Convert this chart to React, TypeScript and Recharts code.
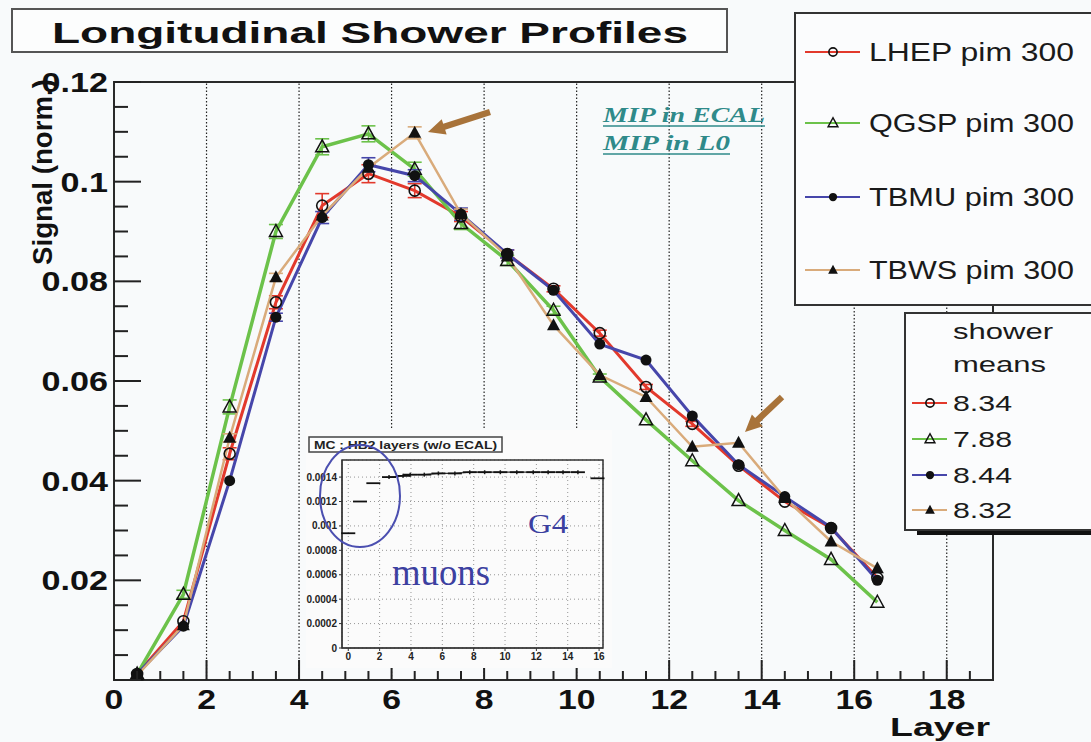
import React from "react";
import {
  LineChart,
  Line,
  XAxis,
  YAxis,
  ReferenceLine,
  ReferenceArea,
  ErrorBar,
  CartesianGrid,
} from "recharts";

// layer centres
const LAYERS = [0.5, 1.5, 2.5, 3.5, 4.5, 5.5, 6.5, 7.5, 8.5, 9.5, 10.5, 11.5, 12.5, 13.5, 14.5, 15.5, 16.5];

const LHEP = [0.0012, 0.0118, 0.0454, 0.0758, 0.0952, 0.1016, 0.0982, 0.093, 0.0855, 0.0785, 0.0696, 0.0588, 0.0514, 0.043, 0.0358, 0.0305, 0.0205];
const QGSP = [0.0012, 0.0172, 0.0548, 0.09, 0.107, 0.1096, 0.1025, 0.0916, 0.0842, 0.0742, 0.0608, 0.0522, 0.044, 0.036, 0.03, 0.0242, 0.0156];
const TBMU = [0.0012, 0.0108, 0.04, 0.0728, 0.0928, 0.1034, 0.1012, 0.0935, 0.0855, 0.0782, 0.0674, 0.0642, 0.053, 0.0432, 0.0368, 0.0306, 0.02];
const TBWS = [0.0009, 0.011, 0.0486, 0.0808, 0.0932, 0.1028, 0.1098, 0.0935, 0.085, 0.0712, 0.0612, 0.0568, 0.0468, 0.0476, 0.0365, 0.0278, 0.0224];

const LHEP_ERR = [0, 0, 0.0012, 0.0013, 0.0024, 0.0018, 0.0014, 0.001, 0.0008, 0.0006, 0.0006, 0.0005, 0.0005, 0, 0, 0, 0];
const QGSP_ERR = [0, 0.0008, 0.0014, 0.0014, 0.0016, 0.0016, 0.0014, 0.0012, 0.001, 0.0008, 0.0006, 0, 0, 0, 0, 0, 0];
const TBMU_ERR = [0, 0, 0, 0.0008, 0.0012, 0.0014, 0.0012, 0.0012, 0.0008, 0, 0, 0, 0, 0, 0, 0, 0];
const TBWS_ERR = [0, 0, 0.0008, 0.0008, 0, 0, 0.0012, 0.001, 0, 0, 0, 0, 0, 0, 0, 0, 0];

const NAMES = ["LHEP pim 300", "QGSP pim 300", "TBMU pim 300", "TBWS pim 300"];
const MEANS = ["8.34", "7.88", "8.44", "8.32"];

const X_TICKS = [0, 0.5, 1, 1.5, 2, 2.5, 3, 3.5, 4, 4.5, 5, 5.5, 6, 6.5, 7, 7.5, 8, 8.5, 9, 9.5, 10, 10.5, 11, 11.5, 12, 12.5, 13, 13.5, 14, 14.5, 15, 15.5, 16, 16.5, 17, 17.5, 18, 18.5];
const Y_TICKS = [0, 0.005, 0.01, 0.015, 0.02, 0.025, 0.03, 0.035, 0.04, 0.045, 0.05, 0.055, 0.06, 0.065, 0.07, 0.075, 0.08, 0.085, 0.09, 0.095, 0.1, 0.105, 0.11, 0.115, 0.12];
const GRID_X = [2, 4, 6, 8, 10, 12, 14, 16, 18];

// inset: MC muons, HB2 layers
const INSET_X = [0.0, 0.75, 1.6, 2.6, 3.5, 3.95, 4.85, 5.75, 6.8, 7.75, 8.7, 9.7, 10.75, 11.8, 12.75, 13.7, 14.65, 15.9];
const INSET_V = [0.00094, 0.0012, 0.00135, 0.0014, 0.00141, 0.00142, 0.00142, 0.00143, 0.00143, 0.00144, 0.00144, 0.00144, 0.00144, 0.00144, 0.00144, 0.00144, 0.00144, 0.00139];
const INSET_X_TICKS = [0, 2, 4, 6, 8, 10, 12, 14, 16];
const INSET_Y_TICKS = [0, 0.0002, 0.0004, 0.0006, 0.0008, 0.001, 0.0012, 0.0014];

const FONT = "'Liberation Sans', Arial, sans-serif";
const SERIF = "'Liberation Serif', 'Times New Roman', serif";

const SERIES = [
  { key: "lhep", values: LHEP, err: LHEP_ERR, color: "#e2392c", marker: "openCircle", width: 3 },
  { key: "qgsp", values: QGSP, err: QGSP_ERR, color: "#6cc24a", marker: "openTriangle", width: 3.5 },
  { key: "tbmu", values: TBMU, err: TBMU_ERR, color: "#4646aa", marker: "filledCircle", width: 3 },
  { key: "tbws", values: TBWS, err: TBWS_ERR, color: "#d9ab7b", marker: "filledTriangle", width: 2.5 },
];

const data = LAYERS.map((layer, i) => {
  const row: Record<string, number> = { layer };
  SERIES.forEach((s) => {
    row[s.key] = s.values[i];
    row[s.key + "Err"] = s.err[i];
  });
  return row;
});

const insetData = INSET_X.map((x, i) => ({
  x,
  v: INSET_V[i],
  conn: i >= 3 && i <= 16 ? INSET_V[i] : null,
}));

function Marker({ kind, cx, cy, s = 1 }: { kind: string; cx: number; cy: number; s?: number }) {
  if (kind === "openCircle")
    return <circle cx={cx} cy={cy} r={5.5 * s} fill="none" stroke="#111" strokeWidth={1.6} />;
  if (kind === "filledCircle") return <circle cx={cx} cy={cy} r={5.5 * s} fill="#111" />;
  const pts = `${cx},${cy - 7 * s} ${cx - 6.5 * s},${cy + 5 * s} ${cx + 6.5 * s},${cy + 5 * s}`;
  if (kind === "openTriangle") return <polygon points={pts} fill="none" stroke="#111" strokeWidth={1.5} />;
  return <polygon points={pts} fill="#111" />;
}

const XTick = (props: any) => {
  const { x, y, payload } = props;
  const v = payload.value;
  const major = v % 2 === 0;
  return (
    <g>
      <line x1={x} x2={x} y1={y} y2={y - (major ? 20 : 9)} stroke="#222" strokeWidth={2} />
      {major && (
        <text
          transform={`translate(${x},${y + 29}) scale(1.25,1)`}
          textAnchor="middle"
          fontSize={27}
          fontWeight="bold"
          fontFamily={FONT}
          fill="#111"
        >
          {v}
        </text>
      )}
    </g>
  );
};

const YTick = (props: any) => {
  const { x, y, payload } = props;
  const v = payload.value;
  const major = Math.abs(v / 0.02 - Math.round(v / 0.02)) < 1e-6;
  return (
    <g>
      <line x1={x} x2={x + (major ? 27 : 14)} y1={y} y2={y} stroke="#222" strokeWidth={2} />
      {major && v > 0 && (
        <text
          transform={`translate(${x - 6},${y + 10}) scale(1.22,1)`}
          textAnchor="end"
          fontSize={28}
          fontWeight="bold"
          fontFamily={FONT}
          fill="#111"
        >
          {String(+v.toFixed(3))}
        </text>
      )}
    </g>
  );
};

function Arrow({ x1, y1, x2, y2 }: { x1: number; y1: number; x2: number; y2: number }) {
  const dx = x2 - x1;
  const dy = y2 - y1;
  const L = Math.hypot(dx, dy);
  const ux = dx / L;
  const uy = dy / L;
  const px = -uy;
  const py = ux;
  const head = 17;
  const hw = 8;
  const sw = 3.2;
  const bx = x2 - ux * head;
  const by = y2 - uy * head;
  const p = [
    [x1 + px * sw, y1 + py * sw],
    [bx + px * sw, by + py * sw],
    [bx + px * hw, by + py * hw],
    [x2, y2],
    [bx - px * hw, by - py * hw],
    [bx - px * sw, by - py * sw],
    [x1 - px * sw, y1 - py * sw],
  ];
  return <polygon points={p.map((q) => q.join(",")).join(" ")} fill="#a8733a" />;
}

const Inset = () => (
  <div
    style={{
      position: "absolute",
      left: 306,
      top: 430,
      width: 306,
      height: 238,
      overflow: "hidden",
      background: "#fbfbfb",
    }}
  >
    <LineChart width={306} height={238} data={insetData} margin={{ top: 30, right: 9, left: 0, bottom: 0 }}>
      <CartesianGrid stroke="#8a8a8a" strokeDasharray="1 3" strokeWidth={0.9} />
      <XAxis
        type="number"
        dataKey="x"
        domain={[-0.4, 16.25]}
        ticks={INSET_X_TICKS}
        interval={0}
        height={20}
        tickSize={3}
        tickMargin={2}
        stroke="#333"
        tick={{ fontSize: 10, fontWeight: "bold", fill: "#222", fontFamily: FONT }}
      />
      <YAxis
        type="number"
        domain={[0, 0.00154]}
        ticks={INSET_Y_TICKS}
        interval={0}
        width={36}
        tickSize={3}
        tickMargin={2}
        stroke="#333"
        tickFormatter={(v: number) => String(+v.toFixed(4))}
        tick={{ fontSize: 10, fontWeight: "bold", fill: "#222", fontFamily: FONT }}
      />
      <ReferenceArea x1={-0.4} x2={16.25} y1={0} y2={0.00154} fill="none" stroke="#333" strokeWidth={1.5} />
      <Line
        dataKey="conn"
        stroke="#333"
        strokeWidth={1.3}
        isAnimationActive={false}
        connectNulls={false}
        dot={(p: any) => (
          <line key={`c${p.index}`} x1={p.cx} x2={p.cx} y1={p.cy - 2} y2={p.cy + 2} stroke="#222" strokeWidth={1.5} />
        )}
      />
      <Line
        dataKey="v"
        stroke="none"
        isAnimationActive={false}
        dot={(p: any) => (
          <line key={`d${p.index}`} x1={p.cx - 7} x2={p.cx + 7} y1={p.cy} y2={p.cy} stroke="#111" strokeWidth={1.8} />
        )}
      />
    </LineChart>
    <svg width={306} height={238} style={{ position: "absolute", left: 0, top: 0 }}>
      <rect x={3} y={7} width={193} height={15} fill="#fdfdfd" stroke="#444" strokeWidth={1.5} />
      <text x={8} y={19} fontSize={10.5} fontWeight="bold" fontFamily={FONT} fill="#222" textLength={183} lengthAdjust="spacingAndGlyphs">
        MC : HB2 layers (w/o ECAL)
      </text>
    </svg>
  </div>
);

export default function App() {
  return (
    <div style={{ position: "absolute", left: 0, top: 0, width: 1091, height: 742, background: "#f8fafb", overflow: "hidden" }}>
      <LineChart width={1091} height={742} data={data} margin={{ top: 82, right: 98, bottom: 0, left: 0 }}>
        <XAxis
          type="number"
          dataKey="layer"
          domain={[0, 19]}
          ticks={X_TICKS}
          interval={0}
          height={62}
          axisLine={false}
          tickLine={false}
          tickSize={0}
          tickMargin={0}
          tick={<XTick />}
        />
        <YAxis
          type="number"
          domain={[0, 0.12]}
          ticks={Y_TICKS}
          interval={0}
          width={114}
          axisLine={false}
          tickLine={false}
          tickSize={0}
          tickMargin={0}
          tick={<YTick />}
        />
        {GRID_X.map((gx) => (
          <ReferenceLine key={gx} x={gx} stroke="#222" strokeWidth={1.2} strokeDasharray="1.5 2" />
        ))}
        <ReferenceArea x1={0} x2={19} y1={0} y2={0.12} fill="none" stroke="#2a2a2a" strokeWidth={2} />
        {SERIES.map((s) => (
          <Line
            key={s.key}
            dataKey={s.key}
            stroke={s.color}
            strokeWidth={s.width}
            isAnimationActive={false}
            dot={(p: any) => <Marker key={`${s.key}-${p.index}`} kind={s.marker} cx={p.cx} cy={p.cy} />}
          >
            <ErrorBar dataKey={`${s.key}Err`} width={7} strokeWidth={1.6} stroke={s.color} direction="y" />
          </Line>
        ))}
      </LineChart>

      <Inset />

      <svg width={1091} height={742} style={{ position: "absolute", left: 0, top: 0, pointerEvents: "none" }}>
        {/* title */}
        <rect x={12} y={9} width={715} height={43} fill="#fcfdfd" stroke="#555" strokeWidth={2} />
        <text x={52} y={43} fontSize={30} fontWeight="bold" fontFamily={FONT} fill="#111" textLength={636} lengthAdjust="spacingAndGlyphs">
          Longitudinal Shower Profiles
        </text>

        {/* axis titles */}
        <text
          transform="translate(52,172) rotate(-90)"
          textAnchor="middle"
          fontSize={27}
          fontWeight="bold"
          fontFamily={FONT}
          fill="#111"
          textLength={186}
          lengthAdjust="spacingAndGlyphs"
        >
          Signal (norm.)
        </text>
        <text x={990} y={736} textAnchor="end" fontSize={26} fontWeight="bold" fontFamily={FONT} fill="#111" textLength={100} lengthAdjust="spacingAndGlyphs">
          Layer
        </text>

        {/* legend: models */}
        <rect x={795} y={13} width={310} height={292} fill="#fbfcfd" stroke="#333" strokeWidth={2} />
        {SERIES.map((s, i) => {
          const cy = [52, 123, 197, 270][i];
          return (
            <g key={s.key}>
              <line x1={805} x2={860} y1={cy} y2={cy} stroke={s.color} strokeWidth={2} />
              <Marker kind={s.marker} cx={833} cy={cy} s={0.75} />
              <text x={869} y={cy + 9} fontSize={25} fontFamily={FONT} fill="#1a1a1a" textLength={205} lengthAdjust="spacingAndGlyphs">
                {NAMES[i]}
              </text>
            </g>
          );
        })}

        {/* legend: shower means */}
        <rect x={917} y={529} width={200} height={6} fill="#111" />
        <rect x={905} y={313} width={200} height={217} fill="#fbfcfd" stroke="#333" strokeWidth={2} />
        <text x={953} y={339} fontSize={22} fontFamily={FONT} fill="#1a1a1a" textLength={100} lengthAdjust="spacingAndGlyphs">
          shower
        </text>
        <text x={953} y={372} fontSize={22} fontFamily={FONT} fill="#1a1a1a" textLength={93} lengthAdjust="spacingAndGlyphs">
          means
        </text>
        {SERIES.map((s, i) => {
          const cy = [403, 439, 475, 510][i];
          return (
            <g key={s.key + "m"}>
              <line x1={912} x2={947} y1={cy} y2={cy} stroke={s.color} strokeWidth={2} />
              <Marker kind={s.marker} cx={930} cy={cy} s={0.75} />
              <text x={953} y={cy + 8} fontSize={22} fontFamily={FONT} fill="#1a1a1a" textLength={59} lengthAdjust="spacingAndGlyphs">
                {MEANS[i]}
              </text>
            </g>
          );
        })}

        {/* MIP annotations */}
        <g fill="#2f8a8a" fontFamily={SERIF} fontStyle="italic" fontWeight="bold" fontSize={22}>
          <text x={603} y={122} textLength={162} lengthAdjust="spacingAndGlyphs">
            MIP in ECAL
          </text>
          <text x={603} y={150} textLength={127} lengthAdjust="spacingAndGlyphs">
            MIP in L0
          </text>
        </g>
        <line x1={603} x2={765} y1={126} y2={126} stroke="#2f8a8a" strokeWidth={1.5} />
        <line x1={603} x2={730} y1={154} y2={154} stroke="#2f8a8a" strokeWidth={1.5} />

        {/* arrows */}
        <Arrow x1={490} y1={112} x2={428} y2={132} />
        <Arrow x1={782} y1={397} x2={745} y2={432} />

        {/* inset annotations */}
        <ellipse cx={360} cy={496} rx={40} ry={51} fill="none" stroke="#4b4fb0" strokeWidth={2} />
        <text x={528} y={533} fontSize={28} fontFamily={SERIF} fill="#3c40a0" textLength={40} lengthAdjust="spacingAndGlyphs">
          G4
        </text>
        <text x={392} y={585} fontSize={37} fontFamily={SERIF} fill="#3c40a0" textLength={98} lengthAdjust="spacingAndGlyphs">
          muons
        </text>
      </svg>
    </div>
  );
}
